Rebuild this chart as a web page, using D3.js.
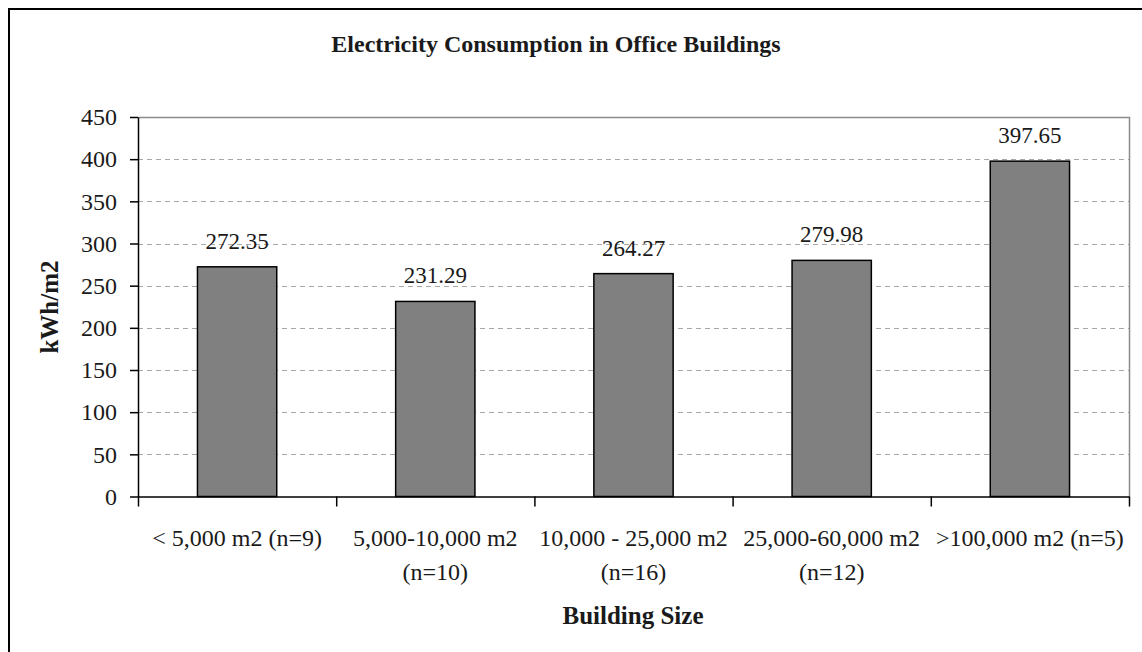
<!DOCTYPE html>
<html>
<head>
<meta charset="utf-8">
<script src="https://cdn.jsdelivr.net/npm/d3@7"></script>
<style>
  html, body { margin: 0; padding: 0; background: #fff; }
  svg { display: block; }
  text { font-family: "Liberation Serif", "Times New Roman", serif; fill: #1a1a1a; }
</style>
</head>
<body>
<svg id="chart" width="1142" height="652"></svg>
<script>
// Chart data
const categoryLines = [
  ["< 5,000 m2 (n=9)"],
  ["5,000-10,000 m2", "(n=10)"],
  ["10,000 - 25,000 m2", "(n=16)"],
  ["25,000-60,000 m2", "(n=12)"],
  [">100,000 m2 (n=5)"]
];
const categories = categoryLines.map(d => d.join(" "));
const consumption = [272.35, 231.29, 264.27, 279.98, 397.65];
const yTickValues = [0, 50, 100, 150, 200, 250, 300, 350, 400, 450];
const gridValues = [50, 100, 150, 200, 250, 300, 350, 400];

const titleText = "Electricity Consumption in Office Buildings";
const yTitle = "kWh/m2";
const xTitle = "Building Size";

// Layout
const plot = { left: 138, right: 1129, top: 117, bottom: 496.5 };

const svg = d3.select("#chart");

// Outer frame (top and left edges)
svg.append("path")
  .attr("d", "M9,660 L9,9 L1150,9")
  .attr("fill", "none")
  .attr("stroke", "#000")
  .attr("stroke-width", 2);

const y = d3.scaleLinear().domain([0, 450]).range([plot.bottom, plot.top]);
const x = d3.scaleBand().domain(categories).range([plot.left, plot.right])
  .paddingInner(0.6).paddingOuter(0.3);
const xEdge = d3.scaleLinear().domain([0, categories.length]).range([plot.left, plot.right]);

// Gridlines
svg.append("g").selectAll("line").data(gridValues).join("line")
  .attr("x1", plot.left).attr("x2", plot.right)
  .attr("y1", d => Math.round(y(d)) + 0.5).attr("y2", d => Math.round(y(d)) + 0.5)
  .attr("stroke", "#a8a8a8")
  .attr("stroke-dasharray", "5,4");

// Plot area top and right border
svg.append("path")
  .attr("d", `M${plot.left},${plot.top + 0.5} H${plot.right + 0.5} V${plot.bottom}`)
  .attr("fill", "none")
  .attr("stroke", "#8c8c8c")
  .attr("stroke-width", 1.5);

// Bars
svg.append("g").selectAll("rect").data(consumption).join("rect")
  .attr("x", (d, i) => x(categories[i]))
  .attr("y", d => y(d))
  .attr("width", x.bandwidth())
  .attr("height", d => y(0) - y(d))
  .attr("fill", "#808080")
  .attr("stroke", "#000")
  .attr("stroke-width", 1.5);

// Value labels
svg.append("g").selectAll("text").data(consumption).join("text")
  .attr("x", (d, i) => x(categories[i]) + x.bandwidth() / 2)
  .attr("y", d => y(d) - 18)
  .attr("text-anchor", "middle")
  .style("font-size", "23px")
  .text(d => d.toFixed(2));

// Y axis
const yAxis = svg.append("g")
  .attr("transform", `translate(${plot.left},0)`)
  .call(d3.axisLeft(y).tickValues(yTickValues).tickSize(8).tickSizeOuter(0).tickPadding(13));
yAxis.select(".domain").attr("stroke", "#000").attr("stroke-width", 1.5);
yAxis.selectAll(".tick line").attr("stroke", "#000").attr("stroke-width", 1.5);
yAxis.selectAll(".tick text")
  .style("font-size", "24px")
  .style("font-family", "Liberation Serif")
  .attr("fill", "#1a1a1a");

// X axis with ticks on category boundaries
const xAxis = svg.append("g")
  .attr("transform", `translate(0,${plot.bottom})`)
  .call(d3.axisBottom(xEdge).tickValues(d3.range(categories.length + 1))
    .tickSize(10).tickSizeOuter(0).tickFormat(""));
xAxis.select(".domain").attr("stroke", "#000").attr("stroke-width", 1.5);
xAxis.selectAll(".tick line").attr("stroke", "#000").attr("stroke-width", 1.5);

// Category labels
const catLabels = svg.append("g").selectAll("text").data(categoryLines).join("text")
  .attr("text-anchor", "middle")
  .style("font-size", "24px");
catLabels.each(function(lines, i) {
  const cx = x(categories[i]) + x.bandwidth() / 2;
  d3.select(this).selectAll("tspan").data(lines).join("tspan")
    .attr("x", cx)
    .attr("y", (d, j) => 546 + j * 34)
    .text(d => d);
});

// Titles
svg.append("text")
  .attr("x", 556).attr("y", 52)
  .attr("text-anchor", "middle")
  .style("font-size", "24px").style("font-weight", "bold")
  .text(titleText);

svg.append("text")
  .attr("transform", `translate(58,307) rotate(-90)`)
  .attr("text-anchor", "middle")
  .style("font-size", "25px").style("font-weight", "bold")
  .text(yTitle);

svg.append("text")
  .attr("x", 633).attr("y", 624)
  .attr("text-anchor", "middle")
  .style("font-size", "25px").style("font-weight", "bold")
  .text(xTitle);
</script>
</body>
</html>
